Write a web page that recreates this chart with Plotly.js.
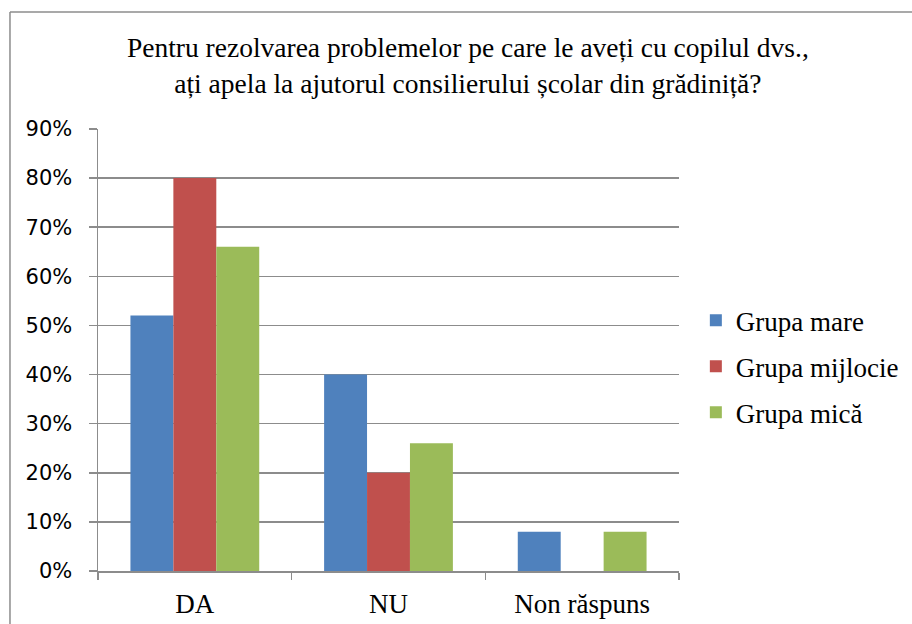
<!DOCTYPE html>
<html>
<head>
<meta charset="utf-8">
<script src="https://cdn.plot.ly/plotly-3.0.1.min.js"></script>
<style>html,body{margin:0;padding:0;background:#fff;}#chart{width:912px;height:624px;}</style>
</head>
<body>
<div id="chart"></div>
<script>
const categories = ["DA", "NU", "Non răspuns"];
const seriesNames = ["Grupa mare", "Grupa mijlocie", "Grupa mică"];
const grupaMare = [0.52, 0.40, 0.08];
const grupaMijlocie = [0.80, 0.20, 0];
const grupaMica = [0.66, 0.26, 0.08];
const yTickValues = [0, 0.1, 0.2, 0.3, 0.4, 0.5, 0.6, 0.7, 0.8, 0.9];
const yTickLabels = ["0%", "10%", "20%", "30%", "40%", "50%", "60%", "70%", "80%", "90%"];
const colors = ["#4F81BD", "#C0504D", "#9BBB59"];
const allSeries = [grupaMare, grupaMijlocie, grupaMica];

const traces = allSeries.map((vals, i) => ({
  type: "bar",
  x: categories,
  y: vals,
  name: seriesNames[i],
  legendgroup: "g" + i,
  marker: {color: colors[i], line: {width: 0}},
  hoverinfo: "none"
}));

const layout = {
  width: 912, height: 624,
  margin: {l: 98, r: 233, t: 129, b: 53, autoexpand: false},
  paper_bgcolor: "#fff", plot_bgcolor: "#fff",
  barmode: "group", bargap: 0.335, bargroupgap: 0,
  title: {
    text: "Pentru rezolvarea problemelor pe care le aveți cu copilul dvs.,<br>ați apela la ajutorul consilierului școlar din grădiniță?",
    font: {family: "Liberation Serif", size: 27.5, color: "#000"},
    x: 0.513, xref: "container", xanchor: "center",
    y: 0.908, yref: "container", yanchor: "middle"
  },
  xaxis: {
    type: "category",
    showline: true, linecolor: "#8C8C8C", linewidth: 1.5,
    ticks: "outside", tickson: "boundaries", ticklen: 7, tickcolor: "#8C8C8C", tickwidth: 1.5,
    tickfont: {family: "Liberation Serif", size: 27, color: "#000"},
    ticklabelstandoff: 8,
    showgrid: false, zeroline: false, fixedrange: true
  },
  yaxis: {
    range: [0, 0.9],
    tickvals: yTickValues, ticktext: yTickLabels,
    showline: true, linecolor: "#8C8C8C", linewidth: 1.5,
    ticks: "outside", ticklen: 8, tickcolor: "#8C8C8C", tickwidth: 1.5,
    showgrid: true, gridcolor: "#8C8C8C", gridwidth: 1.5,
    zeroline: false,
    tickfont: {family: "DejaVu Sans", size: 21, color: "#000"},
    ticklabelstandoff: 12,
    fixedrange: true
  },
  legend: {
    x: 1.029, xanchor: "left", y: 0.622, yanchor: "top",
    font: {family: "Liberation Serif", size: 27, color: "#000"},
    tracegroupgap: 8, traceorder: "grouped", bgcolor: "rgba(0,0,0,0)"
  },
  shapes: [
    {type: "line", xref: "paper", yref: "paper", x0: -0.1515, x1: 1.6, y0: 1.2647, y1: 1.2647, line: {color: "#8C8C8C", width: 1.5}},
    {type: "line", xref: "paper", yref: "paper", x0: -0.1515, x1: -0.1515, y0: -0.2, y1: 1.2647, line: {color: "#8C8C8C", width: 1.5}}
  ],
  showlegend: true
};

Plotly.newPlot("chart", traces, layout, {displayModeBar: false, staticPlot: true});
</script>
</body>
</html>
